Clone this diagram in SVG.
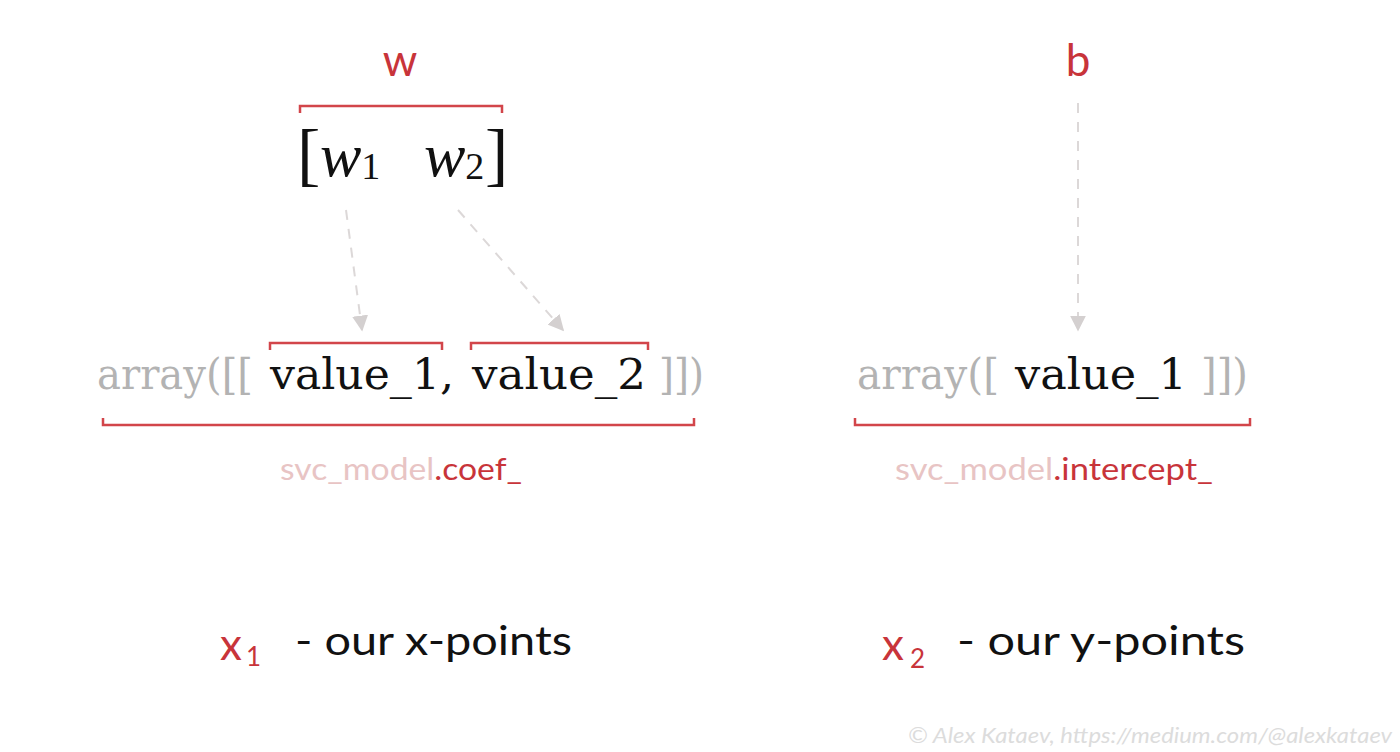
<svg xmlns="http://www.w3.org/2000/svg" width="1400" height="752" viewBox="0 0 1400 752">
<defs>
<marker id="ah" viewBox="0 0 10 10" refX="9" refY="5" markerWidth="16" markerHeight="16" markerUnits="userSpaceOnUse" orient="auto">
<path d="M0,0 L10,5 L0,10 z" fill="#d4d0d0"/>
</marker>
<style>
.br{fill:none;stroke:#d2454a;stroke-width:2.5}
.con{fill:none;stroke:#dcd8d8;stroke-width:2;stroke-dasharray:10 9}
.code{font-family:"DejaVu Serif",serif;font-size:42px}
.gray{fill:#b3b3b3}
.blk{fill:#111}
.hand{font-family:Lato,"Open Sans",sans-serif}
.red{fill:#c8343a}
.pink{fill:#e8c4c4}
.math{font-family:"Liberation Serif",serif;fill:#111}
</style>
</defs>
<rect width="1400" height="752" fill="#fff"/>
<g id="connectors">
<line class="con" x1="346" y1="210" x2="362" y2="330" marker-end="url(#ah)"/>
<line class="con" x1="458" y1="210" x2="563" y2="330" marker-end="url(#ah)"/>
<line class="con" x1="1078" y1="103" x2="1078" y2="330" marker-end="url(#ah)"/>
</g>
<g id="w-label">
<text class="hand red" x="400" y="76" font-size="44" text-anchor="middle">w</text>
<path class="br" d="M300,113 V106 H502 V113"/>
</g>
<g id="w-vector">
<text class="math" x="297" y="178" font-size="70">[</text>
<text class="math" x="320" y="176" font-size="62"><tspan font-style="italic">w</tspan><tspan font-size="38" dy="3">1</tspan></text>
<text class="math" x="424" y="176" font-size="62"><tspan font-style="italic">w</tspan><tspan font-size="38" dy="3">2</tspan></text>
<text class="math" x="485" y="178" font-size="70">]</text>
</g>
<g id="b-label">
<text class="hand red" x="1078" y="76" font-size="44" text-anchor="middle">b</text>
</g>
<g id="coef-array">
<path class="br" d="M270,350 V343 H442 V350"/>
<path class="br" d="M471,350 V343 H648 V350"/>
<text class="code gray" x="97" y="389" textLength="156" lengthAdjust="spacingAndGlyphs">array([[</text>
<text class="code blk" x="270" y="389" textLength="184" lengthAdjust="spacingAndGlyphs">value_1,</text>
<text class="code blk" x="472" y="389" textLength="174" lengthAdjust="spacingAndGlyphs">value_2</text>
<text class="code gray" x="659" y="389" textLength="45" lengthAdjust="spacingAndGlyphs">]])</text>
<path class="br" d="M103,418 V425 H694 V418"/>
<text class="hand" x="280" y="480" font-size="30" textLength="242" lengthAdjust="spacingAndGlyphs"><tspan class="pink">svc_model</tspan><tspan class="red">.coef_</tspan></text>
</g>
<g id="intercept-array">
<text class="code gray" x="857" y="389" textLength="142" lengthAdjust="spacingAndGlyphs">array([</text>
<text class="code blk" x="1015" y="389" textLength="172" lengthAdjust="spacingAndGlyphs">value_1</text>
<text class="code gray" x="1201" y="389" textLength="47" lengthAdjust="spacingAndGlyphs">]])</text>
<path class="br" d="M855,418 V425 H1250 V418"/>
<text class="hand" x="895" y="480" font-size="30" textLength="318" lengthAdjust="spacingAndGlyphs"><tspan class="pink">svc_model</tspan><tspan class="red">.intercept_</tspan></text>
</g>
<g id="x1-legend">
<text class="hand red" x="220" y="660" font-size="44"><tspan>x</tspan><tspan font-size="26" dx="4" dy="6">1</tspan></text>
<text class="hand blk" x="295" y="655" font-size="40" textLength="277" lengthAdjust="spacingAndGlyphs">- our x-points</text>
</g>
<g id="x2-legend">
<text class="hand red" x="882" y="660" font-size="44"><tspan>x</tspan><tspan font-size="26" dx="6" dy="8">2</tspan></text>
<text class="hand blk" x="957" y="655" font-size="40" textLength="288" lengthAdjust="spacingAndGlyphs">- our y-points</text>
</g>
<g id="credit">
<text x="908" y="743" font-family="Lato,'Open Sans',sans-serif" font-style="italic" font-size="22" fill="#dcdcdc" textLength="484" lengthAdjust="spacingAndGlyphs">© Alex Kataev, https://medium.com/@alexkataev</text>
</g>
</svg>
